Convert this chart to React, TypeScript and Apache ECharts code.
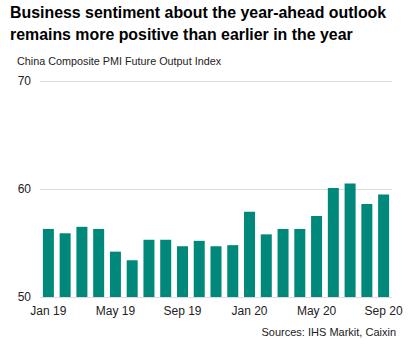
import React, { useEffect, useRef } from "react";
import * as echarts from "echarts";

const categories = [
  "Jan 19", "Feb 19", "Mar 19", "Apr 19", "May 19", "Jun 19", "Jul 19", "Aug 19", "Sep 19", "Oct 19", "Nov 19", "Dec 19",
  "Jan 20", "Feb 20", "Mar 20", "Apr 20", "May 20", "Jun 20", "Jul 20", "Aug 20", "Sep 20",
];
const values = [
  56.3, 55.9, 56.5, 56.3, 54.2, 53.4, 55.3, 55.3, 54.7, 55.2, 54.7, 54.8,
  57.9, 55.8, 56.3, 56.3, 57.5, 60.1, 60.5, 58.6, 59.5,
];
const titleLines = [
  "Business sentiment about the year-ahead outlook",
  "remains more positive than earlier in the year",
];
const subtitle = "China Composite PMI Future Output Index";
const source = "Sources: IHS Markit, Caixin";

const FONT = "'Liberation Sans', Arial, sans-serif";

export default function App() {
  const ref = useRef<HTMLDivElement>(null);
  useEffect(() => {
    if (!ref.current) return;
    const chart = echarts.init(ref.current, undefined, { renderer: "svg" });
    chart.setOption({
      animation: false,
      backgroundColor: "#ffffff",
      title: [
        {
          text: titleLines.join("\n"),
          left: 10,
          top: 1,
          padding: 0,
          textStyle: { fontFamily: FONT, fontSize: 15.9, fontWeight: "bold", color: "#000", lineHeight: 22 },
        },
        {
          text: subtitle,
          left: 17,
          top: 55,
          padding: 0,
          textStyle: { fontFamily: FONT, fontSize: 10.8, fontWeight: "normal", color: "#222" },
        },
        {
          text: source,
          right: 20,
          top: 326,
          padding: 0,
          textStyle: { fontFamily: FONT, fontSize: 11, fontWeight: "normal", color: "#222" },
        },
      ],
      grid: { left: 40, right: 24, top: 81, bottom: 54, containLabel: false },
      xAxis: {
        type: "category",
        data: categories,
        axisLine: { show: false },
        axisTick: { show: false },
        axisLabel: {
          interval: 3,
          fontFamily: FONT,
          fontSize: 12,
          color: "#222",
          margin: 8,
        },
      },
      yAxis: {
        type: "value",
        min: 50,
        max: 70,
        interval: 10,
        axisLine: { show: false },
        axisTick: { show: false },
        axisLabel: { fontFamily: FONT, fontSize: 12, color: "#222", margin: 9 },
        splitLine: { lineStyle: { color: "#dcdcdc", width: 1 } },
      },
      series: [
        {
          type: "bar",
          data: values,
          barWidth: 11,
          itemStyle: { color: "#00897b" },
        },
      ],
    });
    return () => chart.dispose();
  }, []);
  return <div ref={ref} style={{ width: 416, height: 351, position: "absolute", left: 0, top: 0 }} />;
}
